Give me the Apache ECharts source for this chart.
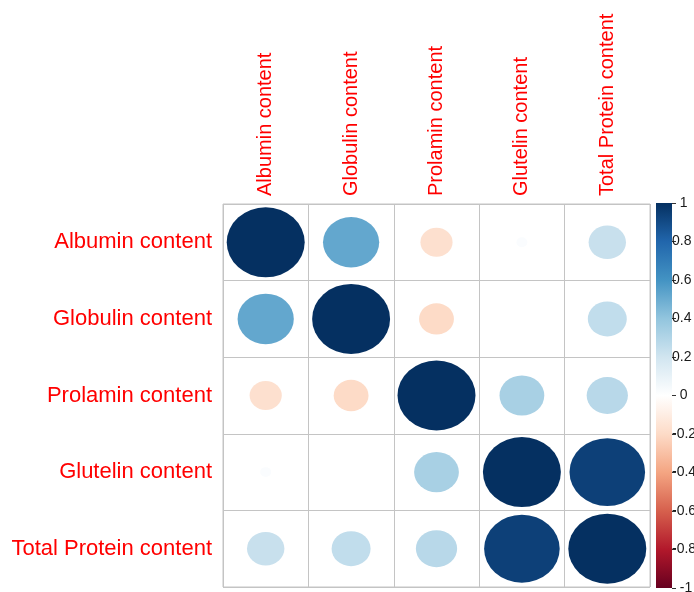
<!DOCTYPE html>
<html>
<head>
<meta charset="utf-8">
<title>Protein fraction correlations</title>
<script src="https://cdn.jsdelivr.net/npm/echarts@6/dist/echarts.min.js"></script>
<style>
  html, body { margin: 0; padding: 0; background: #ffffff; }
  #chart { width: 694px; height: 592px; }
</style>
</head>
<body>
<div id="chart"></div>
<script>
// Variables of the correlation matrix (same order for rows and columns)
const variables = [
  'Albumin content',
  'Globulin content',
  'Prolamin content',
  'Glutelin content',
  'Total Protein content'
];

// Pearson correlation coefficients, one array per row (top to bottom)
const albuminRow  = [1.00, 0.52, -0.17, 0.02, 0.23];
const globulinRow = [0.52, 1.00, -0.20, 0.00, 0.25];
const prolaminRow = [-0.17, -0.20, 1.00, 0.33, 0.28];
const glutelinRow = [0.02, 0.00, 0.33, 1.00, 0.94];
const totalRow    = [0.23, 0.25, 0.28, 0.94, 1.00];
const matrixRows  = [albuminRow, globulinRow, prolaminRow, glutelinRow, totalRow];

// Colour bar ticks
const legendTicks = [-1, -0.8, -0.6, -0.4, -0.2, 0, 0.2, 0.4, 0.6, 0.8, 1];

// Diverging red–blue palette, from -1 to 1
const palette = ['#67001F', '#B2182B', '#D6604D', '#F4A582', '#FDDBC7', '#FFFFFF',
                 '#D1E5F0', '#92C5DE', '#4393C3', '#2166AC', '#053061'];

// Plot geometry
const GRID = { left: 223, top: 204, width: 427, height: 383 };
const CELL_W = GRID.width / variables.length;
const CELL_H = GRID.height / variables.length;
const BAR = { left: 656, top: 203, width: 16, height: 385 };
const FONT = '"Liberation Sans", Arial, Helvetica, sans-serif';

// [column, row, r] triples for the scatter of circles
const cells = [];
matrixRows.forEach((row, i) => {
  row.forEach((r, j) => cells.push([j, i, r]));
});

const chart = echarts.init(document.getElementById('chart'), null, { renderer: 'canvas' });

chart.setOption({
  animation: false,
  backgroundColor: '#ffffff',
  textStyle: { fontFamily: FONT },
  grid: [
    {
      left: GRID.left, top: GRID.top, width: GRID.width, height: GRID.height,
      outerBoundsMode: 'none',
      show: true, borderColor: '#c4c4c4', borderWidth: 1, backgroundColor: 'transparent'
    },
    {
      left: BAR.left, top: BAR.top, width: BAR.width, height: BAR.height,
      outerBoundsMode: 'none',
      show: false
    }
  ],
  xAxis: [
    {
      gridIndex: 0,
      type: 'category',
      position: 'top',
      data: variables,
      axisLine: { show: false },
      axisTick: { show: false },
      splitLine: { show: true, interval: 0, lineStyle: { color: '#c4c4c4', width: 1 } },
      axisLabel: {
        interval: 0,
        rotate: -90,
        margin: 8,
        color: '#FF0000',
        fontSize: 20,
        fontFamily: FONT
      }
    },
    {
      gridIndex: 1,
      type: 'value',
      min: 0,
      max: 1,
      show: false
    }
  ],
  yAxis: [
    {
      gridIndex: 0,
      type: 'category',
      inverse: true,
      data: variables,
      axisLine: { show: false },
      axisTick: { show: false },
      splitLine: { show: true, interval: 0, lineStyle: { color: '#c4c4c4', width: 1 } },
      axisLabel: {
        interval: 0,
        margin: 11,
        color: '#FF0000',
        fontSize: 22,
        fontFamily: FONT
      }
    },
    {
      gridIndex: 1,
      type: 'value',
      position: 'right',
      min: legendTicks[0],
      max: legendTicks[legendTicks.length - 1],
      interval: 0.2,
      axisLine: { show: true, onZero: false, lineStyle: { color: 'rgba(0,0,0,0)', width: 1 } },
      splitLine: { show: false },
      axisTick: { show: true, inside: false, length: 4, lineStyle: { color: '#333333', width: 1 } },
      axisLabel: {
        margin: 0,
        color: '#1a1a1a',
        fontSize: 14,
        fontFamily: FONT,
        formatter: function (v) {
          const t = Math.round(v * 10) / 10;
          const s = String(t);
          return Number.isInteger(t) ? '  ' + s : s;
        }
      },
      z: 5
    }
  ],
  visualMap: {
    show: false,
    type: 'continuous',
    min: -1,
    max: 1,
    dimension: 2,
    seriesIndex: 0,
    inRange: { color: palette }
  },
  series: [
    {
      type: 'scatter',
      xAxisIndex: 0,
      yAxisIndex: 0,
      data: cells,
      symbol: 'circle',
      symbolSize: function (val) {
        const s = Math.sqrt(Math.abs(val[2]));
        return [CELL_W * 0.913 * s, CELL_H * 0.914 * s];
      },
      itemStyle: { opacity: 1 },
      emphasis: { disabled: true },
      silent: true
    },
    {
      // Colour legend bar drawn in its own grid so its axis carries the ticks
      type: 'custom',
      xAxisIndex: 1,
      yAxisIndex: 1,
      silent: true,
      z: 1,
      data: [[0, 0]],
      renderItem: function (params, api) {
        const topLeft = api.coord([0, legendTicks[legendTicks.length - 1]]);
        const bottomRight = api.coord([1, legendTicks[0]]);
        const stops = palette.slice().reverse().map((c, k, arr) => ({
          offset: k / (arr.length - 1),
          color: c
        }));
        return {
          type: 'rect',
          shape: {
            x: topLeft[0],
            y: topLeft[1],
            width: bottomRight[0] - topLeft[0],
            height: bottomRight[1] - topLeft[1]
          },
          style: { fill: new echarts.graphic.LinearGradient(0, 0, 0, 1, stops) }
        };
      }
    }
  ]
});
</script>
</body>
</html>
